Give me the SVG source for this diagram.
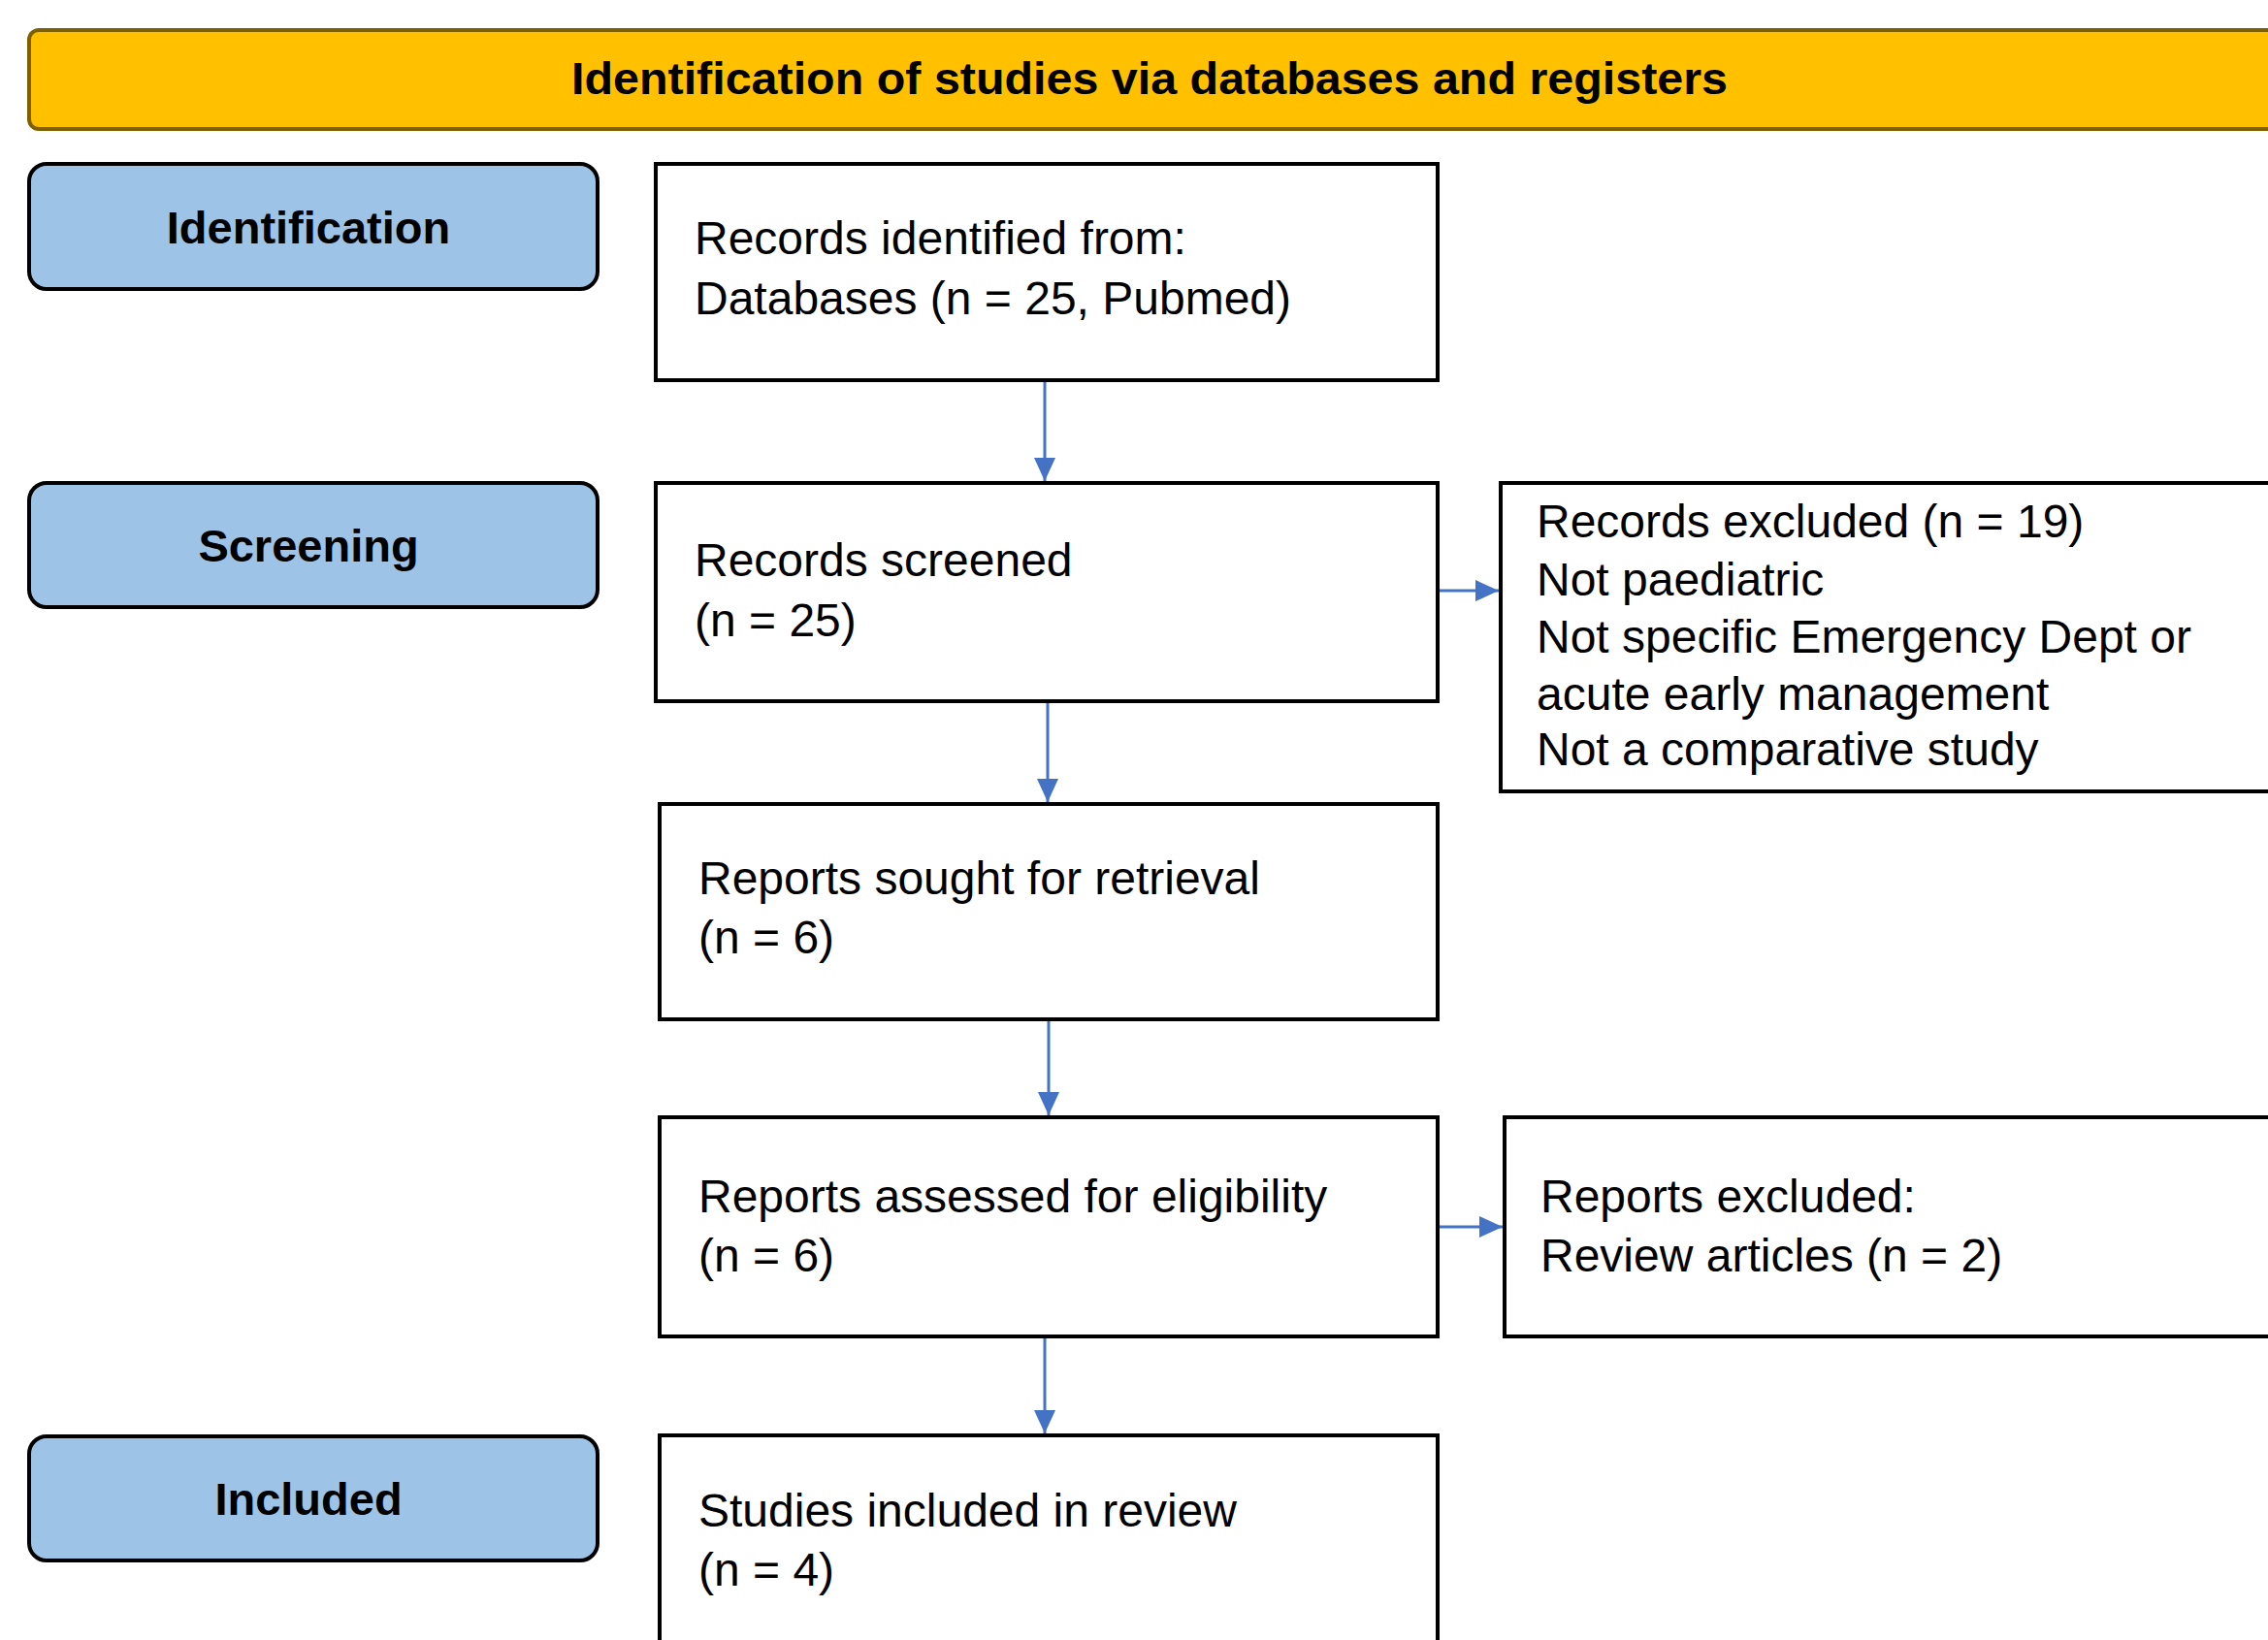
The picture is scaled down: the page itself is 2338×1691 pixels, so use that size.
<svg xmlns="http://www.w3.org/2000/svg" width="2338" height="1691" viewBox="0 0 2338 1691">
<style>
.box{fill:#fff;stroke:#000;stroke-width:4}
.phase{fill:#9DC3E6;stroke:#000;stroke-width:4}
.t{font-family:"Liberation Sans",Arial,sans-serif;font-size:48px;fill:#000}
.b{font-family:"Liberation Sans",Arial,sans-serif;font-size:47px;font-weight:bold;fill:#000}
.conn{stroke:#4472C4;stroke-width:3;fill:none}
</style>
<defs>
<marker id="ah" viewBox="0 0 24 22" refX="24" refY="11" markerWidth="24" markerHeight="22" markerUnits="userSpaceOnUse" orient="auto">
<path d="M0,0 L24,11 L0,22 Z" fill="#4472C4"/>
</marker>
</defs>
<rect width="2338" height="1691" fill="#fff"/>
<g id="banner">
<rect x="30" y="31" width="2340" height="102" rx="10" fill="#FFC000" stroke="#7F6000" stroke-width="4"/>
<text class="b" x="589" y="97" font-size="49" textLength="1192" lengthAdjust="spacingAndGlyphs">Identification of studies via databases and registers</text>
</g>
<g id="phase-identification">
<rect class="phase" x="30" y="169" width="586" height="129" rx="18"/>
<text class="b" x="318" y="251" text-anchor="middle">Identification</text>
</g>
<g id="phase-screening">
<rect class="phase" x="30" y="498" width="586" height="128" rx="18"/>
<text class="b" x="318" y="579" text-anchor="middle">Screening</text>
</g>
<g id="phase-included">
<rect class="phase" x="30" y="1481" width="586" height="128" rx="18"/>
<text class="b" x="318" y="1562" text-anchor="middle">Included</text>
</g>
<g id="records-identified">
<rect class="box" x="676" y="169" width="806" height="223"/>
<text class="t" x="716" y="262">Records identified from:</text>
<text class="t" x="716" y="324">Databases (n = 25, Pubmed)</text>
</g>
<g id="records-screened">
<rect class="box" x="676" y="498" width="806" height="225"/>
<text class="t" x="716" y="594">Records screened</text>
<text class="t" x="716" y="656">(n = 25)</text>
</g>
<g id="records-excluded">
<rect class="box" x="1547" y="498" width="800" height="318"/>
<text class="t" x="1584" y="554">Records excluded (n = 19)</text>
<text class="t" x="1584" y="614">Not paediatric</text>
<text class="t" x="1584" y="673">Not specific Emergency Dept or</text>
<text class="t" x="1584" y="732">acute early management</text>
<text class="t" x="1584" y="789">Not a comparative study</text>
</g>
<g id="reports-sought">
<rect class="box" x="680" y="829" width="802" height="222"/>
<text class="t" x="720" y="922">Reports sought for retrieval</text>
<text class="t" x="720" y="983">(n = 6)</text>
</g>
<g id="reports-assessed">
<rect class="box" x="680" y="1152" width="802" height="226"/>
<text class="t" x="720" y="1250">Reports assessed for eligibility</text>
<text class="t" x="720" y="1311">(n = 6)</text>
</g>
<g id="reports-excluded">
<rect class="box" x="1551" y="1152" width="800" height="226"/>
<text class="t" x="1588" y="1250">Reports excluded:</text>
<text class="t" x="1588" y="1311">Review articles (n = 2)</text>
</g>
<g id="studies-included">
<rect class="box" x="680" y="1480" width="802" height="230"/>
<text class="t" x="720" y="1574">Studies included in review</text>
<text class="t" x="720" y="1635">(n = 4)</text>
</g>
<g id="connectors">
<line class="conn" x1="1077" y1="394" x2="1077" y2="496" marker-end="url(#ah)"/>
<line class="conn" x1="1080" y1="725" x2="1080" y2="827" marker-end="url(#ah)"/>
<line class="conn" x1="1081" y1="1053" x2="1081" y2="1150" marker-end="url(#ah)"/>
<line class="conn" x1="1077" y1="1380" x2="1077" y2="1478" marker-end="url(#ah)"/>
<line class="conn" x1="1484" y1="609" x2="1545" y2="609" marker-end="url(#ah)"/>
<line class="conn" x1="1484" y1="1265" x2="1549" y2="1265" marker-end="url(#ah)"/>
</g>
</svg>
